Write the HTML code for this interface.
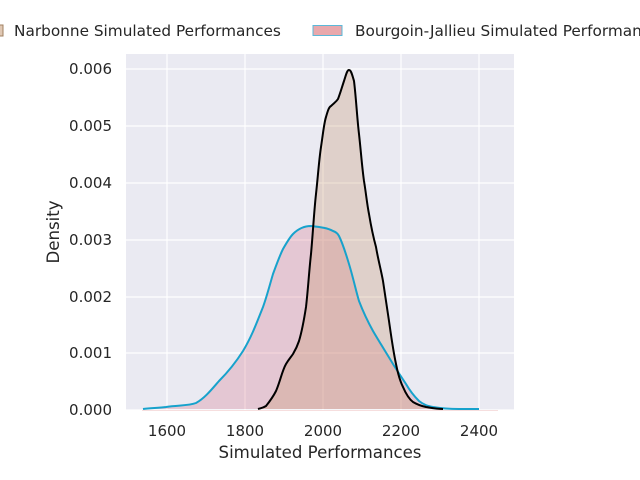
<!DOCTYPE html>
<html><head><style>
html,body{margin:0;padding:0;background:#fff;width:640px;height:480px;overflow:hidden}
text{font-family:"DejaVu Sans","Liberation Sans",sans-serif;fill:#262626}
</style></head><body>
<svg width="640" height="480" xmlns="http://www.w3.org/2000/svg">
<rect x="126" y="54" width="388" height="356" fill="#eaeaf2"/>
<g stroke="#fff" stroke-width="1.2">
<line x1="167" y1="54" x2="167" y2="410"/><line x1="245" y1="54" x2="245" y2="410"/>
<line x1="323" y1="54" x2="323" y2="410"/><line x1="401" y1="54" x2="401" y2="410"/>
<line x1="479" y1="54" x2="479" y2="410"/>
<line x1="126" y1="69" x2="514" y2="69"/><line x1="126" y1="126" x2="514" y2="126"/>
<line x1="126" y1="183" x2="514" y2="183"/><line x1="126" y1="240" x2="514" y2="240"/>
<line x1="126" y1="297" x2="514" y2="297"/><line x1="126" y1="353" x2="514" y2="353"/>
<line x1="126" y1="410" x2="514" y2="410"/>
</g>
<path d="M143,409 C150,408 158,408 166,407 C178,405 188,406 196,403 C205,398 212,389 219,381 C228,372 236,362 243,351 C252,336 257,322 263,307 C267,296 270,284 273,274 C277,263 280,255 283,249 C287,242 290,237 293,234 C299,228 305,226 311,226 C320,227 328,228 333,231 C336,232 338,234 339,236 C343,244 346,254 349,264 C353,277 356,291 359,301 C364,314 368,322 373,331 C380,343 387,354 393,364 C398,372 402,378 406,384 C410,391 414,396 419,401 C424,405 428,406 433,407 C445,409 452,409 459,409 L479,409 Z" fill="rgba(214,120,140,0.3)" stroke="none"/>
<path d="M258,409 C261,408 263,408 266,406 C270,401 273,397 276,391 C280,382 282,371 286,364 C289,359 291,357 293,354 C296,349 297,347 299,341 C302,331 304,320 306,307 C308,290 309,272 311,254 C313,232 314,212 316,194 C318,176 319,160 321,147 C323,134 324,123 326,117 C328,110 329,107 331,106 C334,103 336,102 338,99 C340,94 342,87 344,81 C346,75 347,70 349,70 C351,70 352,74 354,81 C356,97 357,117 359,134 C361,152 362,167 364,181 C366,193 367,204 369,214 C371,226 373,236 376,247 C378,259 381,270 383,281 C385,295 387,308 389,321 C391,335 393,350 396,364 C398,374 400,381 403,387 C406,394 409,399 413,402 C418,405 421,406 426,407 C432,408 437,409 443,409 Z" fill="rgba(200,150,110,0.3)" stroke="none"/>
<path d="M143,409 C150,408 158,408 166,407 C178,405 188,406 196,403 C205,398 212,389 219,381 C228,372 236,362 243,351 C252,336 257,322 263,307 C267,296 270,284 273,274 C277,263 280,255 283,249 C287,242 290,237 293,234 C299,228 305,226 311,226 C320,227 328,228 333,231 C336,232 338,234 339,236 C343,244 346,254 349,264 C353,277 356,291 359,301 C364,314 368,322 373,331 C380,343 387,354 393,364 C398,372 402,378 406,384 C410,391 414,396 419,401 C424,405 428,406 433,407 C445,409 452,409 459,409 L479,409" fill="none" stroke="#17a2cc" stroke-width="2"/>
<path d="M258,409 C261,408 263,408 266,406 C270,401 273,397 276,391 C280,382 282,371 286,364 C289,359 291,357 293,354 C296,349 297,347 299,341 C302,331 304,320 306,307 C308,290 309,272 311,254 C313,232 314,212 316,194 C318,176 319,160 321,147 C323,134 324,123 326,117 C328,110 329,107 331,106 C334,103 336,102 338,99 C340,94 342,87 344,81 C346,75 347,70 349,70 C351,70 352,74 354,81 C356,97 357,117 359,134 C361,152 362,167 364,181 C366,193 367,204 369,214 C371,226 373,236 376,247 C378,259 381,270 383,281 C385,295 387,308 389,321 C391,335 393,350 396,364 C398,374 400,381 403,387 C406,394 409,399 413,402 C418,405 421,406 426,407 C432,408 437,409 443,409" fill="none" stroke="#000" stroke-width="2"/>
<line x1="142" y1="410.5" x2="498" y2="410.5" stroke="#f6dede" stroke-width="1"/>
<g font-size="15" text-anchor="end">
<text x="112" y="415">0.000</text><text x="112" y="358">0.001</text>
<text x="112" y="302">0.002</text><text x="112" y="245">0.003</text>
<text x="112" y="188">0.004</text><text x="112" y="131">0.005</text>
<text x="112" y="74">0.006</text>
</g>
<g font-size="15" text-anchor="middle">
<text x="167" y="436">1600</text><text x="245" y="436">1800</text>
<text x="323" y="436">2000</text><text x="401" y="436">2200</text>
<text x="479" y="436">2400</text>
</g>
<text x="320" y="458" font-size="16.6" text-anchor="middle">Simulated Performances</text>
<text transform="translate(59,232) rotate(-90)" font-size="16.6" text-anchor="middle">Density</text>
<rect x="-8" y="25" width="11" height="11" fill="#e0c8b4" stroke="#a08060" stroke-width="1"/>
<text x="14" y="36" font-size="15.3">Narbonne Simulated Performances</text>
<rect x="313" y="25.5" width="29" height="10" fill="#e8a8ac" stroke="#5bb8d8" stroke-width="1"/>
<text x="355" y="36" font-size="15.3">Bourgoin-Jallieu Simulated Performances</text>
</svg>
</body></html>
